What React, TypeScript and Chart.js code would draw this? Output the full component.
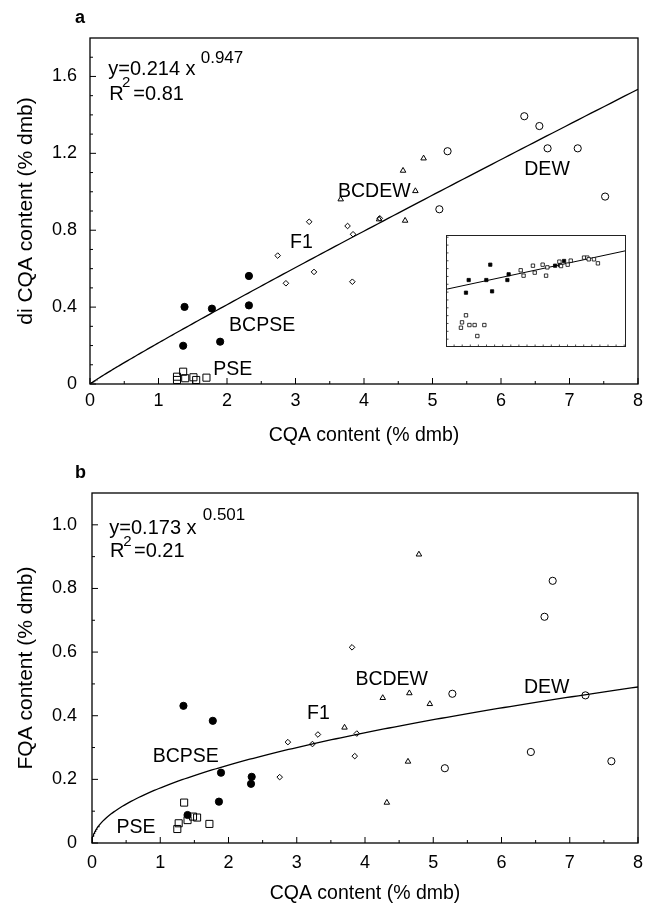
import React, { useEffect, useRef } from 'react';
import { Chart, registerables } from 'chart.js';
Chart.register(...registerables);

const FONT = '"Liberation Sans", Arial, Helvetica, sans-serif';

// ---------- Panel a: di CQA vs CQA ----------
const A_BCPSE_CQA = [1.38, 1.78, 2.32, 2.32, 1.36, 1.90];
const A_BCPSE_DICQA = [0.401, 0.392, 0.409, 0.562, 0.199, 0.220];
const A_PSE_CQA = [1.27, 1.27, 1.36, 1.39, 1.51, 1.55, 1.70];
const A_PSE_DICQA = [0.038, 0.021, 0.064, 0.030, 0.035, 0.021, 0.033];
const A_F1_CQA = [2.74, 3.20, 2.86, 3.27, 3.76, 3.84, 3.83, 4.23];
const A_F1_DICQA = [0.668, 0.844, 0.524, 0.583, 0.822, 0.779, 0.532, 0.862];
const A_BCDEW_CQA = [3.66, 4.22, 4.60, 4.75, 4.57, 4.87];
const A_BCDEW_DICQA = [0.961, 0.857, 0.850, 1.004, 1.110, 1.174];
const A_DEW_CQA = [5.22, 5.10, 6.34, 6.56, 6.68, 7.12, 7.52];
const A_DEW_DICQA = [1.211, 0.909, 1.393, 1.342, 1.226, 1.226, 0.975];
const A_FIT_COEF = 0.214;
const A_FIT_EXP = 0.947;
const A_FIT_R2 = '0.81';
const A_Y_TICKS = [0, 0.4, 0.8, 1.2, 1.6];
const A_GROUP_LABELS = ['PSE', 'BCPSE', 'F1', 'BCDEW', 'DEW'];
const A_LABEL_CQA = [1.80, 2.03, 2.92, 3.62, 6.34];
const A_LABEL_DICQA = [0.047, 0.277, 0.705, 0.973, 1.086];

// ---------- Panel b: FQA vs CQA ----------
const B_BCPSE_CQA = [1.34, 1.77, 1.89, 2.34, 2.33, 1.86, 1.40];
const B_BCPSE_FQA = [0.431, 0.384, 0.221, 0.208, 0.186, 0.130, 0.088];
const B_PSE_CQA = [1.35, 1.27, 1.25, 1.40, 1.48, 1.54, 1.72];
const B_PSE_FQA = [0.127, 0.062, 0.044, 0.072, 0.083, 0.080, 0.060];
const B_F1_CQA = [2.75, 2.87, 3.23, 3.31, 3.88, 3.85, 3.81];
const B_F1_FQA = [0.207, 0.317, 0.311, 0.341, 0.344, 0.273, 0.615];
const B_BCDEW_CQA = [3.70, 4.26, 4.65, 4.95, 4.63, 4.32, 4.79];
const B_BCDEW_FQA = [0.363, 0.456, 0.471, 0.437, 0.256, 0.127, 0.907];
const B_DEW_CQA = [5.28, 5.17, 6.75, 6.63, 7.23, 6.43, 7.61];
const B_DEW_FQA = [0.469, 0.235, 0.824, 0.711, 0.464, 0.286, 0.257];
const B_FIT_COEF = 0.173;
const B_FIT_EXP = 0.501;
const B_FIT_R2 = '0.21';
const B_Y_TICKS = [0, 0.2, 0.4, 0.6, 0.8, 1.0];
const B_GROUP_LABELS = ['PSE', 'BCPSE', 'F1', 'BCDEW', 'DEW'];
const B_LABEL_CQA = [0.36, 0.89, 3.15, 3.86, 6.33];
const B_LABEL_FQA = [0.032, 0.256, 0.389, 0.498, 0.473];

const X_TICKS = [0, 1, 2, 3, 4, 5, 6, 7, 8];

// ---------- Inset (relative units) ----------
const INSET_FILLED_X = [0.246, 0.126, 0.111, 0.224, 0.256, 0.341, 0.348, 0.606, 0.656, 0.633];
const INSET_FILLED_Y = [0.735, 0.598, 0.485, 0.598, 0.497, 0.598, 0.649, 0.726, 0.768, 0.732];
const INSET_OPEN_X = [0.111, 0.089, 0.083, 0.130, 0.159, 0.213, 0.174, 0.415, 0.431, 0.483, 0.493, 0.537, 0.556, 0.563, 0.630, 0.639, 0.676, 0.693, 0.767, 0.785, 0.793, 0.822, 0.844];
const INSET_OPEN_Y = [0.283, 0.220, 0.172, 0.196, 0.196, 0.196, 0.098, 0.685, 0.637, 0.726, 0.664, 0.735, 0.637, 0.711, 0.762, 0.723, 0.735, 0.771, 0.798, 0.798, 0.783, 0.783, 0.747];
const INSET_LINE_X = [0, 1];
const INSET_LINE_Y = [0.515, 0.860];

const pts = (xs: number[], ys: number[]) => xs.map((x, i) => ({ x, y: ys[i] }));

function fitCurve(coef: number, exp: number, n: number) {
  const out: { x: number; y: number }[] = [];
  for (let i = 0; i <= n; i++) {
    const x = 8 * Math.pow(i / n, 2);
    out.push({ x, y: coef * Math.pow(x, exp) });
  }
  return out;
}

function marker(label: string, data: any[], style: string, r: number, fill: string, bw = 1) {
  return {
    type: 'scatter',
    label,
    data,
    pointStyle: style,
    pointRadius: r,
    pointBackgroundColor: fill,
    pointBorderColor: '#000',
    pointBorderWidth: bw,
    showLine: false,
    clip: false,
    order: 0,
  };
}

type TextItem = { text: string; x: number; y: number; size: number; bold?: boolean; space: 'area' | 'data' | 'canvas' };

function makeDecor(cfg: any) {
  return {
    id: 'decor',
    afterDraw(chart: any) {
      const { ctx, chartArea: ca, scales } = chart;
      const xs = scales.x;
      const ys = scales.y;
      ctx.save();
      ctx.strokeStyle = '#000';
      ctx.lineWidth = 1.3;
      ctx.strokeRect(ca.left, ca.top, ca.right - ca.left, ca.bottom - ca.top);
      ctx.lineWidth = 1;
      const seg = (x1: number, y1: number, x2: number, y2: number) => {
        ctx.beginPath();
        ctx.moveTo(x1, y1);
        ctx.lineTo(x2, y2);
        ctx.stroke();
      };
      cfg.xMajor.forEach((v: number) => { const p = xs.getPixelForValue(v); seg(p, ca.bottom, p, ca.bottom - 6); });
      cfg.xMinor.forEach((v: number) => { const p = xs.getPixelForValue(v); seg(p, ca.bottom, p, ca.bottom - 3); });
      cfg.yMajor.forEach((v: number) => { const p = ys.getPixelForValue(v); seg(ca.left, p, ca.left + 6, p); });
      cfg.yMinor.forEach((v: number) => { const p = ys.getPixelForValue(v); seg(ca.left, p, ca.left + 3, p); });

      ctx.fillStyle = '#000';
      ctx.textAlign = 'left';
      ctx.textBaseline = 'alphabetic';
      (cfg.texts as TextItem[]).forEach((t) => {
        ctx.font = `${t.bold ? 'bold ' : ''}${t.size}px ${FONT}`;
        let x = t.x;
        let y = t.y;
        if (t.space === 'area') { x = ca.left + t.x; y = ca.top + t.y; }
        else if (t.space === 'data') { x = xs.getPixelForValue(t.x); y = ys.getPixelForValue(t.y); }
        ctx.fillText(t.text, x, y);
      });

      ctx.font = `${cfg.xTitleSize}px ${FONT}`;
      ctx.textAlign = 'center';
      ctx.fillText(cfg.xTitle, (ca.left + ca.right) / 2, ca.bottom + cfg.xTitleOffset);

      ctx.save();
      ctx.translate(cfg.yTitleX, (ca.top + ca.bottom) / 2);
      ctx.rotate(-Math.PI / 2);
      ctx.font = `${cfg.yTitleSize}px ${FONT}`;
      ctx.textAlign = 'center';
      ctx.fillText(cfg.yTitle, 0, 0);
      ctx.restore();
      ctx.restore();
    },
  };
}

function range(start: number, end: number, step: number, skipEvery?: number) {
  const out: number[] = [];
  for (let v = start; v <= end + 1e-9; v += step) {
    const r = Math.round(v * 1000) / 1000;
    if (skipEvery && Math.abs(r / skipEvery - Math.round(r / skipEvery)) < 1e-6) continue;
    out.push(r);
  }
  return out;
}

function mainConfig(p: any) {
  const labelTexts: TextItem[] = p.labels.map((l: string, i: number) => ({ text: l, x: p.labelX[i], y: p.labelY[i], size: 19.5, space: 'data' }));
  const eq = p.eq;
  const texts: TextItem[] = [
    { text: p.letter, x: 75, y: p.letterY, size: 18, bold: true, space: 'canvas' },
    { text: `y=${p.coef} x`, x: eq.x, y: eq.y, size: 20, space: 'area' },
    { text: `${p.exp}`, x: eq.supX, y: eq.supY, size: 17, space: 'area' },
    { text: 'R', x: eq.rX, y: eq.rY, size: 20, space: 'area' },
    { text: '2', x: eq.r2X, y: eq.r2Y, size: 15, space: 'area' },
    { text: `=${p.r2}`, x: eq.rX + 24, y: eq.rY, size: 20, space: 'area' },
    ...labelTexts,
  ];
  return {
    type: 'scatter',
    data: {
      datasets: [
        {
          type: 'line',
          label: 'fit',
          data: fitCurve(p.coef, p.exp, 160),
          borderColor: '#000',
          borderWidth: 1.3,
          pointRadius: 0,
          showLine: true,
          fill: false,
          tension: 0,
          order: 10,
        },
        marker('PSE', p.pse, 'rect', 5, 'rgba(255,255,255,0)', 1),
        marker('BCPSE', p.bcpse, 'circle', 3.6, '#000', 1),
        marker('F1', p.f1, 'rectRot', 2.8, 'rgba(255,255,255,0)', 1),
        marker('BCDEW', p.bcdew, 'triangle', 3.2, 'rgba(255,255,255,0)', 1),
        marker('DEW', p.dew, 'circle', 3.6, 'rgba(255,255,255,0)', 1),
      ],
    },
    options: {
      responsive: false,
      animation: false,
      devicePixelRatio: 1,
      events: [],
      layout: { padding: { top: p.padTop, right: 15, left: 0, bottom: 0 } },
      plugins: { legend: { display: false }, tooltip: { enabled: false }, title: { display: false } },
      scales: {
        x: {
          type: 'linear',
          min: 0,
          max: 8,
          grid: { display: false, drawTicks: false },
          border: { display: false },
          ticks: { padding: p.xTickPad, color: '#000', font: { size: 18, family: FONT }, maxRotation: 0, autoSkip: false, callback: (v: number) => String(v) },
          afterBuildTicks: (s: any) => { s.ticks = X_TICKS.map((v) => ({ value: v })); },
          afterFit: (s: any) => { s.height = p.xAxisH; },
        },
        y: {
          type: 'linear',
          min: 0,
          max: p.yMax,
          grid: { display: false, drawTicks: false },
          border: { display: false },
          ticks: { padding: p.yTickPad, color: '#000', font: { size: 18, family: FONT }, autoSkip: false, callback: (v: number) => (v === 0 ? '0' : v.toFixed(1)) },
          afterBuildTicks: (s: any) => { s.ticks = p.yTicks.map((v: number) => ({ value: v })); },
          afterFit: (s: any) => { s.width = p.yAxisW; },
        },
      },
    },
    plugins: [
      makeDecor({
        xMajor: X_TICKS,
        xMinor: range(0.5, 7.5, 1),
        yMajor: p.yTicks,
        yMinor: p.yMinor,
        texts,
        xTitle: 'CQA content (% dmb)',
        xTitleSize: 19.5,
        xTitleOffset: p.xTitleOffset,
        yTitle: p.yTitle,
        yTitleSize: 21,
        yTitleX: 31.5,
      }),
    ],
  };
}

const insetDecor = {
  id: 'insetDecor',
  afterDraw(chart: any) {
    const { ctx, chartArea: ca, scales } = chart;
    ctx.save();
    ctx.strokeStyle = '#222';
    ctx.lineWidth = 1;
    ctx.strokeRect(ca.left + 0.5, ca.top + 0.5, ca.right - ca.left - 1, ca.bottom - ca.top - 1);
    ctx.lineWidth = 0.8;
    for (let v = 0.045; v < 1; v += 0.045) {
      const p = scales.x.getPixelForValue(v);
      ctx.beginPath(); ctx.moveTo(p, ca.bottom); ctx.lineTo(p, ca.bottom - 2.5); ctx.stroke();
    }
    for (let v = 0.07; v < 1; v += 0.07) {
      const p = scales.y.getPixelForValue(v);
      ctx.beginPath(); ctx.moveTo(ca.left, p); ctx.lineTo(ca.left + 2.5, p); ctx.stroke();
    }
    ctx.restore();
  },
};

const insetConfig: any = {
  type: 'scatter',
  data: {
    datasets: [
      { type: 'line', data: pts(INSET_LINE_X, INSET_LINE_Y), borderColor: '#000', borderWidth: 1, pointRadius: 0, order: 10 },
      marker('inset open', pts(INSET_OPEN_X, INSET_OPEN_Y), 'rect', 2.4, '#fff', 0.8),
      marker('inset filled', pts(INSET_FILLED_X, INSET_FILLED_Y), 'rect', 2.3, '#000', 0.8),
    ],
  },
  options: {
    responsive: false,
    animation: false,
    devicePixelRatio: 1,
    events: [],
    layout: { padding: 6 },
    plugins: { legend: { display: false }, tooltip: { enabled: false } },
    scales: {
      x: { type: 'linear', min: 0, max: 1, display: false },
      y: { type: 'linear', min: 0, max: 1, display: false },
    },
  },
  plugins: [insetDecor],
};

export default function App() {
  const aRef = useRef<HTMLCanvasElement>(null);
  const bRef = useRef<HTMLCanvasElement>(null);
  const iRef = useRef<HTMLCanvasElement>(null);

  useEffect(() => {
    const cfgA: any = mainConfig({
      letter: 'a', letterY: 23, coef: A_FIT_COEF, exp: A_FIT_EXP, r2: A_FIT_R2,
      eq: { x: 18.3, y: 37, supX: 110.7, supY: 25.3, rX: 19.3, rY: 62, r2X: 32, r2Y: 49 },
      labels: A_GROUP_LABELS, labelX: A_LABEL_CQA, labelY: A_LABEL_DICQA,
      pse: pts(A_PSE_CQA, A_PSE_DICQA), bcpse: pts(A_BCPSE_CQA, A_BCPSE_DICQA), f1: pts(A_F1_CQA, A_F1_DICQA),
      bcdew: pts(A_BCDEW_CQA, A_BCDEW_DICQA), dew: pts(A_DEW_CQA, A_DEW_DICQA),
      padTop: 38, xAxisH: 68, yAxisW: 90, xTickPad: 6, yTickPad: 13, yMax: 1.8,
      yTicks: A_Y_TICKS, yMinor: range(0.1, 1.7, 0.1, 0.4), xTitleOffset: 56.5,
      yTitle: 'di CQA content (% dmb)',
    });
    const cfgB: any = mainConfig({
      letter: 'b', letterY: 26, coef: B_FIT_COEF, exp: B_FIT_EXP, r2: B_FIT_R2,
      eq: { x: 17.3, y: 41, supX: 110.7, supY: 27, rX: 18, rY: 63.7, r2X: 31.3, r2Y: 53 },
      labels: B_GROUP_LABELS, labelX: B_LABEL_CQA, labelY: B_LABEL_FQA,
      pse: pts(B_PSE_CQA, B_PSE_FQA), bcpse: pts(B_BCPSE_CQA, B_BCPSE_FQA), f1: pts(B_F1_CQA, B_F1_FQA),
      bcdew: pts(B_BCDEW_CQA, B_BCDEW_FQA), dew: pts(B_DEW_CQA, B_DEW_FQA),
      padTop: 41, xAxisH: 61, yAxisW: 92, xTickPad: 9, yTickPad: 15, yMax: 1.1,
      yTicks: B_Y_TICKS, yMinor: range(0.1, 1.0, 0.1, 0.2), xTitleOffset: 56,
      yTitle: 'FQA content (% dmb)',
    });
    const charts = [
      new Chart(aRef.current as HTMLCanvasElement, cfgA),
      new Chart(bRef.current as HTMLCanvasElement, cfgB),
      new Chart(iRef.current as HTMLCanvasElement, insetConfig),
    ];
    return () => charts.forEach((c) => c.destroy());
  }, []);

  return (
    <div style={{ position: 'absolute', left: 0, top: 0, width: 653, height: 904, background: '#fff' }}>
      <canvas ref={aRef} width={653} height={452} style={{ position: 'absolute', left: 0, top: 0, width: 653, height: 452 }} />
      <canvas ref={bRef} width={653} height={452} style={{ position: 'absolute', left: 0, top: 452, width: 653, height: 452 }} />
      <canvas ref={iRef} width={192} height={124} style={{ position: 'absolute', left: 440, top: 229, width: 192, height: 124 }} />
    </div>
  );
}
